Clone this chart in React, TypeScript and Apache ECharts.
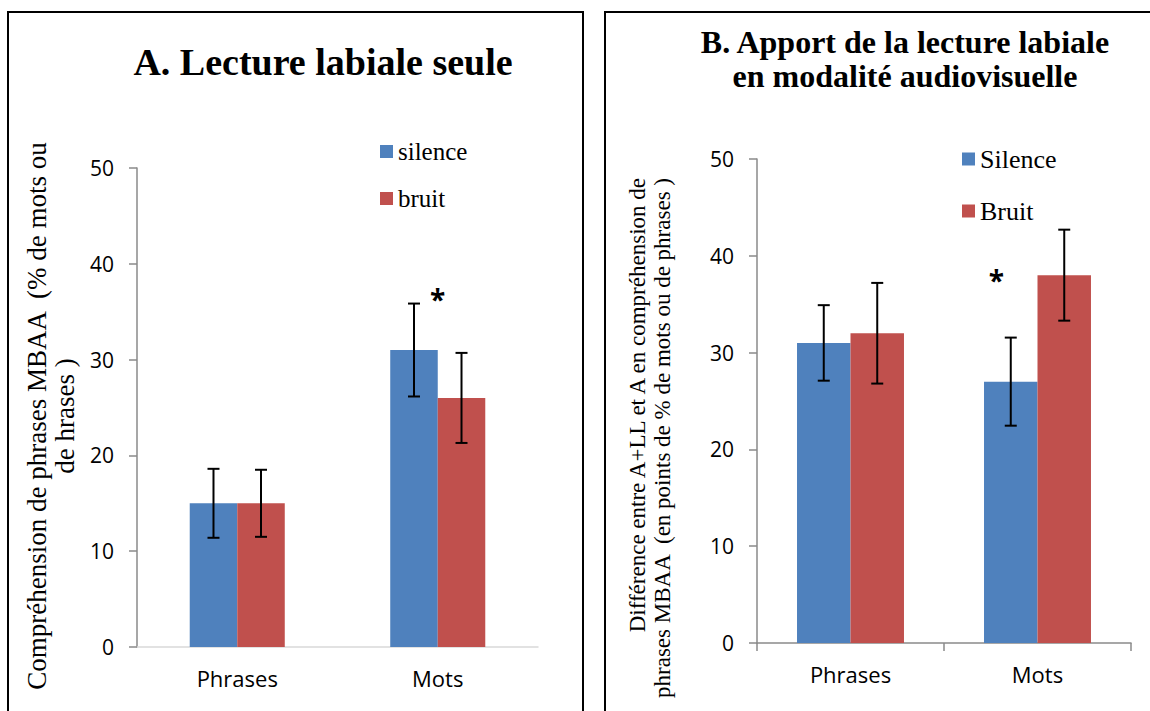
import React, { useEffect, useRef } from 'react';
import * as echarts from 'echarts';

const categories = ['Phrases', 'Mots'];
const aSilence = [15, 31];
const aBruit = [15, 26];
const aSilenceErr = [3.6, 4.85];
const aBruitErr = [3.5, 4.7];
const bSilence = [31, 27];
const bBruit = [32, 38];
const bSilenceErr = [3.9, 4.55];
const bBruitErr = [5.2, 4.7];
const aLegend = ['silence', 'bruit'];
const bLegend = ['Silence', 'Bruit'];
const aStar: [string, number][] = [['Mots', 36.7]];
const bStar: [string, number][] = [['Mots', 38.3]];

const BLUE = '#4F81BD';
const RED = '#C0504D';
const GRAY = '#8a8a8a';
const SERIF = '"Liberation Serif", "Times New Roman", serif';
const SANS = '"Open Sans", "Noto Sans", sans-serif';

function errSeries(values: number[], errs: number[], xi: number, sign: number, pct: number) {
  return {
    type: 'custom',
    xAxisIndex: xi,
    yAxisIndex: xi,
    z: 10,
    silent: true,
    data: values.map((v, i) => [i, v - errs[i], v + errs[i]]),
    encode: { x: 0, y: [1, 2] },
    renderItem: (params: any, api: any) => {
      const bw = api.size([1, 0])[0];
      const off = (sign * bw * pct) / 2;
      const top = api.coord([api.value(0), api.value(2)]);
      const bot = api.coord([api.value(0), api.value(1)]);
      const x = top[0] + off;
      const cap = 6;
      const style = { stroke: '#000', lineWidth: 2 };
      return {
        type: 'group',
        children: [
          { type: 'line', shape: { x1: x, y1: top[1], x2: x, y2: bot[1] }, style },
          { type: 'line', shape: { x1: x - cap, y1: top[1], x2: x + cap, y2: top[1] }, style },
          { type: 'line', shape: { x1: x - cap, y1: bot[1], x2: x + cap, y2: bot[1] }, style },
        ],
      };
    },
  };
}

function starSeries(data: [string, number][], xi: number, dx: number, dy: number) {
  return {
    type: 'custom',
    xAxisIndex: xi,
    yAxisIndex: xi,
    z: 11,
    silent: true,
    data: data.map((d) => [categories.indexOf(d[0]), d[1]]),
    encode: { x: 0, y: 1 },
    renderItem: (params: any, api: any) => {
      const p = api.coord([api.value(0), api.value(1)]);
      return {
        type: 'text',
        style: {
          text: '*',
          x: p[0] + dx,
          y: p[1] + dy,
          align: 'center',
          verticalAlign: 'middle',
          font: `bold 28px ${SANS}`,
          fill: '#000',
        },
      };
    },
  };
}

export default function App() {
  const ref = useRef<HTMLDivElement>(null);
  useEffect(() => {
    if (!ref.current) return;
    const chart = echarts.init(ref.current, undefined, { renderer: 'svg' });
    const aPct = 0.237;
    const bPct = 0.286;
    const yAxisBase = () => ({
      type: 'value',
      min: 0,
      max: 50,
      interval: 10,
      axisLine: { show: true, lineStyle: { color: GRAY, width: 1.5 } },
      axisTick: { show: true, length: 8, lineStyle: { color: GRAY, width: 1.5 } },
      splitLine: { show: false },
      axisLabel: { fontFamily: SANS, fontSize: 21, color: '#000', margin: 23 },
    });
    chart.setOption({
      animation: false,
      backgroundColor: '#fff',
      grid: [
        { left: 137, top: 168, width: 401, height: 479 },
        { left: 757, top: 159, width: 374, height: 484 },
      ],
      xAxis: [
        {
          type: 'category',
          gridIndex: 0,
          data: categories,
          axisLine: { show: true, lineStyle: { color: '#d9d9d9', width: 1.5 } },
          axisTick: { show: false },
          axisLabel: { fontFamily: SANS, fontSize: 22, color: '#000', margin: 20 },
        },
        {
          type: 'category',
          gridIndex: 1,
          data: categories,
          axisLine: { show: true, lineStyle: { color: GRAY, width: 1.5 } },
          axisTick: { show: true, length: 8, lineStyle: { color: GRAY, width: 1.5 } },
          axisLabel: { fontFamily: SANS, fontSize: 22, color: '#000', margin: 20 },
        },
      ],
      yAxis: [
        { ...yAxisBase(), gridIndex: 0 },
        { ...yAxisBase(), gridIndex: 1 },
      ],
      legend: [
        {
          data: aLegend,
          orient: 'vertical',
          left: 380,
          top: 139,
          padding: 0,
          icon: 'rect',
          itemWidth: 13,
          itemHeight: 13,
          itemGap: 22,
          textStyle: { fontFamily: SERIF, fontSize: 25, color: '#000', lineHeight: 24 },
        },
        {
          data: bLegend,
          orient: 'vertical',
          left: 962,
          top: 146,
          padding: 0,
          icon: 'rect',
          itemWidth: 13,
          itemHeight: 13,
          itemGap: 26,
          textStyle: { fontFamily: SERIF, fontSize: 26, color: '#000', lineHeight: 26 },
        },
      ],
      series: [
        { name: 'silence', type: 'bar', xAxisIndex: 0, yAxisIndex: 0, data: aSilence, barWidth: `${aPct * 100}%`, barGap: '0%', itemStyle: { color: BLUE } },
        { name: 'bruit', type: 'bar', xAxisIndex: 0, yAxisIndex: 0, data: aBruit, barWidth: `${aPct * 100}%`, barGap: '0%', itemStyle: { color: RED } },
        { name: 'Silence', type: 'bar', xAxisIndex: 1, yAxisIndex: 1, data: bSilence, barWidth: `${bPct * 100}%`, barGap: '0%', itemStyle: { color: BLUE } },
        { name: 'Bruit', type: 'bar', xAxisIndex: 1, yAxisIndex: 1, data: bBruit, barWidth: `${bPct * 100}%`, barGap: '0%', itemStyle: { color: RED } },
        errSeries(aSilence, aSilenceErr, 0, -1, aPct),
        errSeries(aBruit, aBruitErr, 0, 1, aPct),
        errSeries(bSilence, bSilenceErr, 1, -1, bPct),
        errSeries(bBruit, bBruitErr, 1, 1, bPct),
        starSeries(aStar, 0, 0, 4),
        starSeries(bStar, 1, -41, 8),
      ],
      graphic: [
        { type: 'rect', shape: { x: 8, y: 12, width: 575, height: 720 }, style: { fill: 'none', stroke: '#000', lineWidth: 2 }, silent: true },
        { type: 'rect', shape: { x: 605, y: 12, width: 560, height: 720 }, style: { fill: 'none', stroke: '#000', lineWidth: 2 }, silent: true },
        {
          type: 'text',
          x: 323,
          y: 62,
          style: { text: 'A. Lecture labiale seule', align: 'center', verticalAlign: 'middle', font: `bold 38px ${SERIF}`, fill: '#000' },
        },
        {
          type: 'text',
          x: 905,
          y: 59,
          style: {
            text: 'B. Apport de la lecture labiale\nen modalité audiovisuelle',
            align: 'center',
            verticalAlign: 'middle',
            font: `bold 32px ${SERIF}`,
            lineHeight: 34,
            fill: '#000',
          },
        },
        {
          type: 'text',
          x: 51,
          y: 416,
          rotation: Math.PI / 2,
          style: {
            text: 'Compréhension de phrases MBAA  (% de mots ou\nde hrases )',
            align: 'center',
            verticalAlign: 'middle',
            font: `27px ${SERIF}`,
            lineHeight: 28,
            fill: '#000',
          },
        },
        {
          type: 'text',
          x: 650,
          y: 178,
          rotation: Math.PI / 2,
          style: {
            text: 'Différence entre A+LL et A en compréhension de\nphrases MBAA  (en points de % de mots ou de phrases )',
            align: 'right',
            verticalAlign: 'middle',
            font: `23px ${SERIF}`,
            lineHeight: 25,
            fill: '#000',
          },
        },
      ],
    });
    return () => chart.dispose();
  }, []);
  return <div ref={ref} style={{ position: 'fixed', left: 0, top: 0, width: 1150, height: 711 }} />;
}
